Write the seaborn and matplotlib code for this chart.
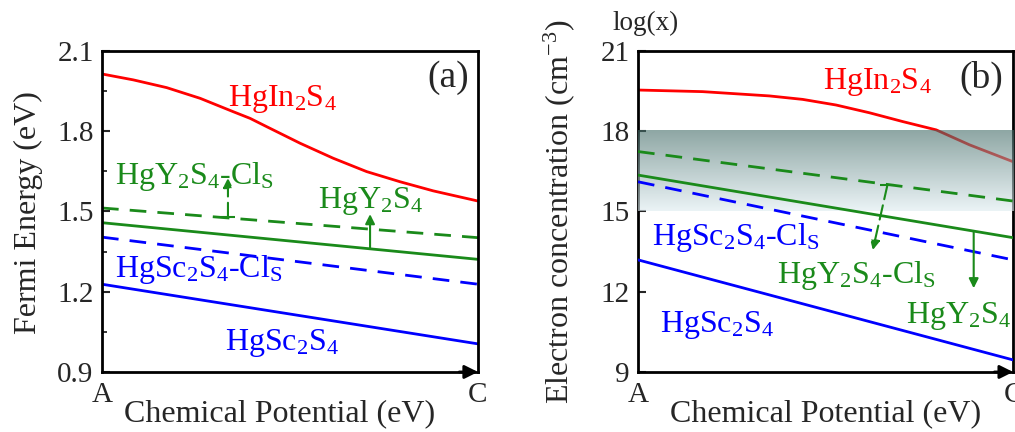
import numpy as np
import matplotlib
matplotlib.use("Agg")
import matplotlib.pyplot as plt
import seaborn as sns
from matplotlib.ticker import MultipleLocator

# chemical potential path, A (0) -> C (1)
mu_ends = [0.0, 1.0]
mu_in_a = [0.0, 0.083, 0.172, 0.261, 0.349, 0.394, 0.438, 0.527, 0.615, 0.704, 0.793, 0.881, 1.0]
mu_in_b = [0.0, 0.172, 0.35, 0.439, 0.528, 0.617, 0.706, 0.795, 0.884, 1.0]

# (a) Fermi energy (eV)
ef_in = [2.014, 1.992, 1.963, 1.923, 1.873, 1.848, 1.817, 1.755, 1.699, 1.649, 1.611, 1.577, 1.539]
ef_y_cl = [1.513, 1.402]
ef_y = [1.458, 1.321]
ef_sc_cl = [1.404, 1.228]
ef_sc = [1.228, 1.005]

# (b) log10 electron concentration (cm^-3)
n_in = [19.54, 19.48, 19.32, 19.19, 18.98, 18.69, 18.36, 18.05, 17.49, 16.86]
n_y_cl = [17.24, 15.39]
n_y = [16.36, 14.02]
n_sc_cl = [16.11, 13.19]
n_sc = [13.19, 9.45]
band = [15.0, 18.0]

RED = "#ff0000"
GREEN = "#1a8a1a"
BLUE = "#0000ff"
DASH = (0, (6, 4))

sns.set_style("ticks")
plt.rcParams["font.family"] = ["Liberation Serif", "DejaVu Serif"]
plt.rcParams["mathtext.fontset"] = "stix"
plt.rcParams["mathtext.default"] = "regular"

fig = plt.figure(figsize=(10.15, 4.32), dpi=100)
ax1 = fig.add_axes([0.1005, 0.139, 0.3704, 0.743])
ax2 = fig.add_axes([0.6286, 0.139, 0.3695, 0.743])


def style_axes(ax, ylim, major, minor=None):
    ax.set_xlim(0, 1)
    ax.set_ylim(*ylim)
    ax.yaxis.set_major_locator(MultipleLocator(major))
    if minor:
        ax.yaxis.set_minor_locator(MultipleLocator(minor))
    ax.set_xticks([0, 1])
    ax.set_xticklabels(["A", "C"])
    ax.tick_params(axis="x", length=0, pad=7, labelsize=21)
    ax.tick_params(axis="y", which="major", direction="in", length=6, width=1.5,
                   pad=6, labelsize=21, right=False)
    ax.tick_params(axis="y", which="minor", direction="in", length=3.5, width=1.3, right=False)
    for s in ax.spines.values():
        s.set_linewidth(2)
        s.set_color("black")
    # arrow head at the end of the chemical potential axis
    ax.annotate("", xy=(1.0, 0.0), xytext=(0.95, 0.0), xycoords="axes fraction",
                arrowprops=dict(arrowstyle="-|>", color="black", lw=2,
                                mutation_scale=20, shrinkA=0, shrinkB=0),
                annotation_clip=False, zorder=10)


def arrow(ax, x0, y0, x1, y1, dashed=False):
    props = dict(arrowstyle="-|>", color=GREEN, lw=1.5, mutation_scale=14,
                 shrinkA=0, shrinkB=0)
    if dashed:
        props["linestyle"] = (0, (7, 3))
        ax.plot([x0], [y0], marker="_", color=GREEN, markersize=10, mew=1.5, zorder=6)
    ax.annotate("", xy=(x1, y1), xytext=(x0, y0), arrowprops=props, zorder=6)


# ---------- (a) ----------
sns.lineplot(x=mu_in_a, y=ef_in, color=RED, lw=2, ax=ax1)
sns.lineplot(x=mu_ends, y=ef_y_cl, color=GREEN, lw=2, linestyle=DASH, ax=ax1)
sns.lineplot(x=mu_ends, y=ef_y, color=GREEN, lw=2, ax=ax1)
sns.lineplot(x=mu_ends, y=ef_sc_cl, color=BLUE, lw=2, linestyle=DASH, ax=ax1)
sns.lineplot(x=mu_ends, y=ef_sc, color=BLUE, lw=2, ax=ax1)
style_axes(ax1, (0.9, 2.1), 0.3, 0.15)

arrow(ax1, 0.335, 1.478, 0.335, 1.625, dashed=True)
arrow(ax1, 0.713, 1.361, 0.713, 1.49)

fs = 23
ax1.text(0.335, 1.894, "HgIn$_2$S$_4$", color=RED, fontsize=fs, va="baseline")
ax1.text(0.035, 1.603, "HgY$_2$S$_4$-Cl$_S$", color=GREEN, fontsize=fs, va="baseline")
ax1.text(0.574, 1.512, "HgY$_2$S$_4$", color=GREEN, fontsize=fs, va="baseline")
ax1.text(0.035, 1.256, "HgSc$_2$S$_4$-Cl$_S$", color=BLUE, fontsize=fs, va="baseline")
ax1.text(0.327, 0.982, "HgSc$_2$S$_4$", color=BLUE, fontsize=fs, va="baseline")
ax1.text(0.92, 2.0, "(a)", fontsize=27, ha="center", va="center")

ax1.set_ylabel("Fermi Energy (eV)", fontsize=23)
ax1.set_xlabel("Chemical Potential (eV)", fontsize=23)
ax1.yaxis.set_label_coords(-0.157, 0.498)
ax1.xaxis.set_label_coords(0.473, -0.085)

# ---------- (b) ----------
sns.lineplot(x=mu_in_b, y=n_in, color=RED, lw=2, ax=ax2, zorder=2)
grad = np.linspace(0, 1, 256)[:, None]
top = np.array([67, 108, 104]) / 255
bot = np.array([222, 236, 240]) / 255
img = top[None, None, :] * (1 - grad[..., None]) + bot[None, None, :] * grad[..., None]
ax2.imshow(img, extent=[0, 1, band[0], band[1]], aspect="auto", alpha=0.6,
           origin="upper", zorder=3, interpolation="bilinear")
sns.lineplot(x=mu_ends, y=n_y_cl, color=GREEN, lw=2, linestyle=DASH, ax=ax2, zorder=4)
sns.lineplot(x=mu_ends, y=n_y, color=GREEN, lw=2, ax=ax2, zorder=4)
sns.lineplot(x=mu_ends, y=n_sc_cl, color=BLUE, lw=2, linestyle=DASH, ax=ax2, zorder=4)
sns.lineplot(x=mu_ends, y=n_sc, color=BLUE, lw=2, ax=ax2, zorder=4)
style_axes(ax2, (9, 21), 3)

arrow(ax2, 0.665, 15.99, 0.626, 13.56, dashed=True)
arrow(ax2, 0.895, 14.27, 0.895, 12.13)

ax2.text(0.492, 19.57, "HgIn$_2$S$_4$", color=RED, fontsize=fs, va="baseline")
ax2.text(0.915, 19.99, "(b)", fontsize=27, ha="center", va="center")
ax2.text(0.037, 13.75, "HgSc$_2$S$_4$-Cl$_S$", color=BLUE, fontsize=fs, va="baseline")
ax2.text(0.37, 12.34, "HgY$_2$S$_4$-Cl$_S$", color=GREEN, fontsize=fs, va="baseline")
ax2.text(0.715, 10.84, "HgY$_2$S$_4$", color=GREEN, fontsize=fs, va="baseline")
ax2.text(0.059, 10.51, "HgSc$_2$S$_4$", color=BLUE, fontsize=fs, va="baseline")

ax2.set_ylabel("Electron concentration (cm$^{-3}$)", fontsize=23)
ax2.set_xlabel("Chemical Potential (eV)", fontsize=23)
ax2.yaxis.set_label_coords(-0.162, 0.498)
ax2.xaxis.set_label_coords(0.5, -0.085)
fig.text(0.603, 0.93, "log(x)", fontsize=19.5, va="baseline")

fig.savefig("out.png", dpi=100)
